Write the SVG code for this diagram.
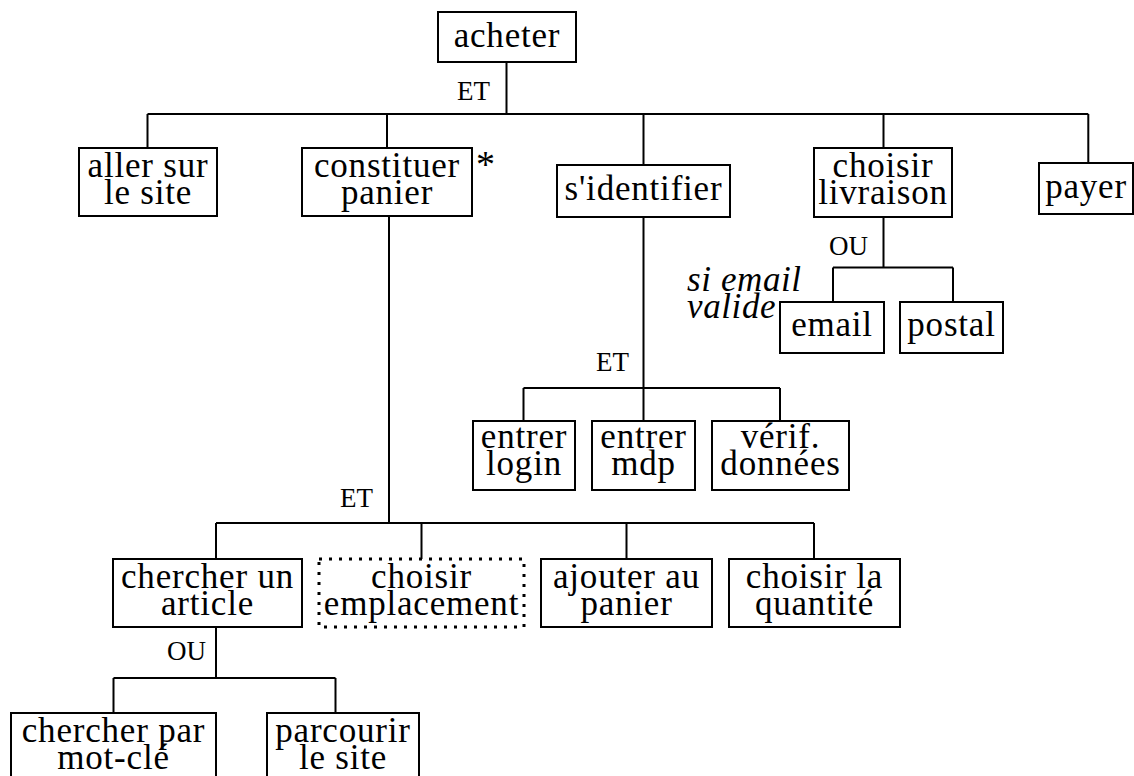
<svg xmlns="http://www.w3.org/2000/svg" width="1134" height="776" viewBox="0 0 1134 776">
  <style>
    .box { fill: #fff; stroke: #000; stroke-width: 2; }
    .dotted { fill: #fff; stroke: #000; stroke-width: 3; stroke-dasharray: 3 7; }
    .t { font-family: "Liberation Serif", "Times New Roman", serif; font-size: 35px; letter-spacing: 0.8px; text-anchor: middle; fill: #000; }
    .op { font-family: "Liberation Serif", "Times New Roman", serif; font-size: 27px; text-anchor: end; fill: #000; }
    .cond { font-family: "Liberation Serif", "Times New Roman", serif; font-size: 35px; font-style: italic; letter-spacing: 0.6px; fill: #000; }
    .wire { fill: none; stroke: #000; stroke-width: 2; }
  </style>
  <rect width="1134" height="776" fill="#fff"/>

  <!-- tree connectors -->
  <g id="connectors" class="wire">
    <path d="M506.5 62V114M147.5 114H1088.3M147.5 114V148M387 114V148M643.5 114V165M883.5 114V148M1088.3 114V163"/>
    <path d="M389 216V523M216 523H814M216 523V559M421.5 523V559M626.5 523V559M814 523V559"/>
    <path d="M643.5 217V388M523.5 388H780M523.5 388V421M643.5 388V421M780 388V421"/>
    <path d="M883.5 217V267.5M833 267.5H953M833 267.5V302M953 267.5V302"/>
    <path d="M216 627V678M113.5 678H335.5M113.5 678V713M335.5 678V713"/>
  </g>

  <!-- decomposition labels -->
  <g id="labels">
    <text class="op" x="490" y="100">ET</text>
    <text class="op" x="629" y="371">ET</text>
    <text class="op" x="868" y="255">OU</text>
    <text class="op" x="373" y="507">ET</text>
    <text class="op" x="206" y="660">OU</text>
    <text class="cond" x="687" y="291">si email<tspan x="687" dy="27">valide</tspan></text>
  </g>

  <g id="acheter">
    <rect class="box" x="438" y="12" width="138" height="50"/>
    <text class="t" x="507" y="47">acheter</text>
  </g>
  <g id="aller-sur-le-site">
    <rect class="box" x="79" y="148" width="138" height="68"/>
    <text class="t" x="148" y="177">aller sur<tspan x="148" dy="27">le site</tspan></text>
  </g>
  <g id="constituer-panier">
    <rect class="box" x="302" y="148" width="170" height="68"/>
    <text class="t" x="387" y="177">constituer<tspan x="387" dy="27">panier</tspan></text>
    <text class="t" x="486" y="177" style="font-size:38px">*</text>
  </g>
  <g id="s-identifier">
    <rect class="box" x="557" y="165" width="173" height="52"/>
    <text class="t" x="643.5" y="200">s'identifier</text>
  </g>
  <g id="choisir-livraison">
    <rect class="box" x="814" y="148" width="138" height="69"/>
    <text class="t" x="883" y="177">choisir<tspan x="883" dy="27">livraison</tspan></text>
  </g>
  <g id="payer">
    <rect class="box" x="1039" y="163" width="94" height="51"/>
    <text class="t" x="1086" y="198">payer</text>
  </g>
  <g id="email">
    <rect class="box" x="780" y="302" width="104" height="51"/>
    <text class="t" x="832" y="336">email</text>
  </g>
  <g id="postal">
    <rect class="box" x="900" y="302" width="103" height="51"/>
    <text class="t" x="951.5" y="336">postal</text>
  </g>
  <g id="entrer-login">
    <rect class="box" x="473" y="421" width="102" height="69"/>
    <text class="t" x="524" y="448">entrer<tspan x="524" dy="27">login</tspan></text>
  </g>
  <g id="entrer-mdp">
    <rect class="box" x="592" y="421" width="103" height="69"/>
    <text class="t" x="643.5" y="448">entrer<tspan x="643.5" dy="27">mdp</tspan></text>
  </g>
  <g id="verif-donnees">
    <rect class="box" x="712" y="421" width="137" height="69"/>
    <text class="t" x="780.5" y="448">vérif.<tspan x="780.5" dy="27">données</tspan></text>
  </g>
  <g id="chercher-un-article">
    <rect class="box" x="113" y="559" width="189" height="68"/>
    <text class="t" x="207.5" y="588">chercher un<tspan x="207.5" dy="27">article</tspan></text>
  </g>
  <g id="choisir-emplacement">
    <rect class="dotted" x="319" y="559" width="205" height="68"/>
    <text class="t" x="421.5" y="588">choisir<tspan x="421.5" dy="27">emplacement</tspan></text>
  </g>
  <g id="ajouter-au-panier">
    <rect class="box" x="541" y="559" width="171" height="68"/>
    <text class="t" x="626.5" y="588">ajouter au<tspan x="626.5" dy="27">panier</tspan></text>
  </g>
  <g id="choisir-la-quantite">
    <rect class="box" x="729" y="559" width="171" height="68"/>
    <text class="t" x="814.5" y="588">choisir la<tspan x="814.5" dy="27">quantité</tspan></text>
  </g>
  <g id="chercher-par-mot-cle">
    <rect class="box" x="11" y="713" width="205" height="70"/>
    <text class="t" x="113.5" y="742">chercher par<tspan x="113.5" dy="27">mot-clé</tspan></text>
  </g>
  <g id="parcourir-le-site">
    <rect class="box" x="267" y="713" width="152" height="70"/>
    <text class="t" x="343" y="742">parcourir<tspan x="343" dy="27">le site</tspan></text>
  </g>
</svg>
